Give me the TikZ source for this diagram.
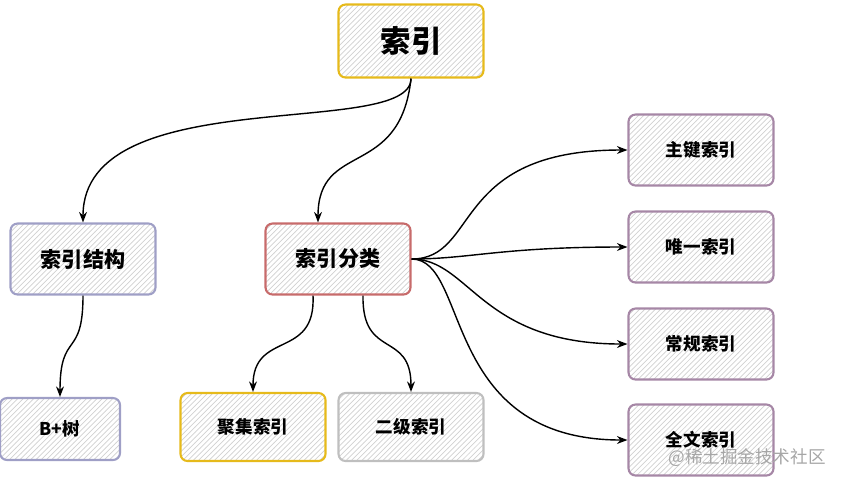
\documentclass[tikz,border=0pt]{standalone}
\usepackage{fontspec}
\setmainfont{Noto Sans CJK SC}
\usetikzlibrary{patterns,arrows.meta}
\begin{document}
\begin{tikzpicture}[x=0.02cm,y=-0.02cm,
    box/.style={draw=#1, line width=1.2pt, rounded corners=4pt, minimum width=2.9cm, minimum height=1.42cm,
      pattern=north east lines, pattern color=black!18, font=\bfseries\large},
    link/.style={-{Stealth[length=6pt]}, line width=0.8pt}
]
  \useasboundingbox (0,0) rectangle (841,485);

  % 节点
  \node[box=yellow!60!orange!90!black, minimum height=1.46cm, font=\bfseries\LARGE] (idx) at (411,41) {索引};
  \node[box=blue!25!gray!60] (jg) at (83,259) {索引结构};
  \node[box=red!45!gray!80] (fl) at (338,259) {索引分类};
  \node[box=blue!25!gray!60, minimum width=2.4cm, minimum height=1.24cm, font=\bfseries] (bt) at (60,429) {B+树};
  \node[box=yellow!60!orange!90!black, minimum height=1.36cm, font=\bfseries] (jj) at (253,427) {聚集索引};
  \node[box=black!25, minimum height=1.36cm, font=\bfseries] (ej) at (411,427) {二级索引};
  \node[box=violet!35!gray!70, font=\bfseries] (zj) at (701,150) {主键索引};
  \node[box=violet!35!gray!70, font=\bfseries] (wy) at (701,247) {唯一索引};
  \node[box=violet!35!gray!70, font=\bfseries] (cg) at (701,344) {常规索引};
  \node[box=violet!35!gray!70, font=\bfseries] (qw) at (701,440) {全文索引};
  \node[text=black!35, anchor=east, inner sep=0pt] (wm) at (826,458) {@稀土掘金技术社区};

  % 连线
  \draw[link] (idx.south) .. controls (411,140) and (83,80) .. (jg.north);
  \draw[link] (idx.south) .. controls (400,180) and (318,140) .. ([xshift=-0.4cm]fl.north);
  \draw[link] (jg.south) .. controls (83,360) and (60,330) .. (bt.north);
  \draw[link] ([xshift=-0.5cm]fl.south) .. controls (316,360) and (253,330) .. (jj.north);
  \draw[link] ([xshift=0.5cm]fl.south) .. controls (362,360) and (411,330) .. (ej.north);
  \draw[link] (fl.east) .. controls (480,259) and (450,150) .. (zj.west);
  \draw[link] (fl.east) .. controls (470,259) and (500,247) .. (wy.west);
  \draw[link] (fl.east) .. controls (470,259) and (480,344) .. (cg.west);
  \draw[link] (fl.east) .. controls (470,259) and (440,440) .. (qw.west);
\end{tikzpicture}
\end{document}
